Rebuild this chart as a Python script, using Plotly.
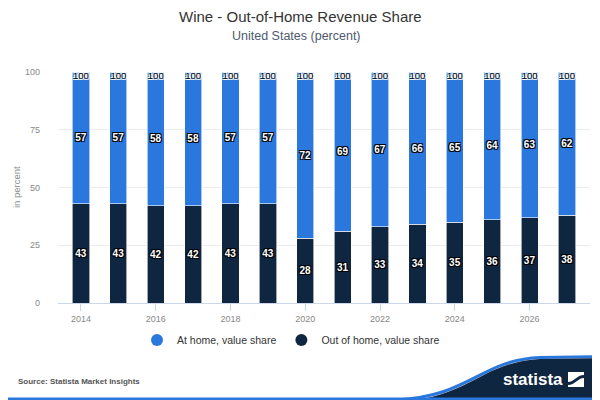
import plotly.graph_objects as go

# data
years = [2014, 2015, 2016, 2017, 2018, 2019, 2020, 2021, 2022, 2023, 2024, 2025, 2026, 2027]
out_of_home = [43, 43, 42, 42, 43, 43, 28, 31, 33, 34, 35, 36, 37, 38]
at_home = [57, 57, 58, 58, 57, 57, 72, 69, 67, 66, 65, 64, 63, 62]
totals = [100, 100, 100, 100, 100, 100, 100, 100, 100, 100, 100, 100, 100, 100]
tick_years = [2014, 2016, 2018, 2020, 2022, 2024, 2026]

BLUE = "#2a77dd"
NAVY = "#0f2640"
FONT = "Liberation Sans, Arial, sans-serif"

outline_dark = "-1px -1px 0 #000, 1px -1px 0 #000, -1px 1px 0 #000, 1px 1px 0 #000"
outline_light = "-1px -1px 0 #fff, 1px -1px 0 #fff, -1px 1px 0 #fff, 1px 1px 0 #fff"

# the page body has an 8px margin, so work in screen pixels and shift back
OFF = 8
L, R, T, B = 58, 590, 72, 303  # plot area in screen pixels


def px(x):
    return (x - L) / (R - L)


def py(y):
    return (B - y) / (B - T)


fig = go.Figure()

fig.add_trace(go.Bar(
    x=years, y=out_of_home, name="Out of home, value share",
    marker=dict(color=NAVY, line=dict(color="#ffffff", width=0.6)),
    text=out_of_home, textposition="inside", insidetextanchor="middle",
    constraintext="none", textangle=0,
    textfont=dict(family=FONT, size=10, color="#ffffff", weight="bold", shadow=outline_dark),
    width=0.46, showlegend=False, hoverinfo="skip",
))
fig.add_trace(go.Bar(
    x=years, y=at_home, name="At home, value share",
    marker=dict(color=BLUE, line=dict(color="#ffffff", width=0.6)),
    text=at_home, textposition="inside", insidetextanchor="middle",
    constraintext="none", textangle=0,
    textfont=dict(family=FONT, size=10, color="#ffffff", weight="bold", shadow=outline_dark),
    width=0.46, showlegend=False, hoverinfo="skip",
))
# total labels at the top of each stack
fig.add_trace(go.Scatter(
    x=years, y=totals, mode="text", text=totals, textposition="bottom center",
    textfont=dict(family=FONT, size=9.5, color="#000000", shadow=outline_light),
    showlegend=False, hoverinfo="skip", cliponaxis=False,
))
# legend entries with round markers
fig.add_trace(go.Scatter(
    x=[None], y=[None], mode="markers", name="At home, value share",
    marker=dict(color=BLUE, size=12, symbol="circle"),
))
fig.add_trace(go.Scatter(
    x=[None], y=[None], mode="markers", name="Out of home, value share",
    marker=dict(color=NAVY, size=12, symbol="circle"),
))

wave = (f"M {px(395)},{py(402)} "
        f"C {px(470)},{py(399)} {px(480)},{py(362)} {px(540)},{py(359)} "
        f"L {px(602)},{py(358)} L {px(602)},{py(402)} Z")
wave_edge = (f"M {px(395)},{py(400)} "
             f"C {px(470)},{py(397)} {px(480)},{py(360)} {px(540)},{py(357.5)} "
             f"L {px(602)},{py(356.5)}")

shapes = [
    dict(type="path", xref="paper", yref="paper", path=wave_edge,
         line=dict(color=BLUE, width=3), layer="above"),
    dict(type="path", xref="paper", yref="paper", path=wave,
         fillcolor=NAVY, line=dict(width=0), layer="above"),
    dict(type="rect", xref="paper", yref="paper",
         x0=px(-2), x1=px(602), y0=py(402), y1=py(397.5),
         fillcolor=BLUE, line=dict(width=0), layer="above"),
    # logo icon
    dict(type="rect", xref="paper", yref="paper",
         x0=px(568), x1=px(584), y0=py(387), y1=py(372),
         fillcolor="#ffffff", line=dict(width=0), layer="above"),
    dict(type="path", xref="paper", yref="paper",
         path=(f"M {px(568)},{py(382)} C {px(574)},{py(382)} {px(577)},{py(375)} {px(584)},{py(375)} "
               f"L {px(584)},{py(378)} C {px(578)},{py(378)} {px(575)},{py(385)} {px(568)},{py(385)} Z"),
         fillcolor=NAVY, line=dict(width=0), layer="above"),
]

annotations = [
    dict(text="Wine - Out-of-Home Revenue Share", x=px(300), xref="paper", y=py(17), yref="paper",
         xanchor="center", yanchor="middle", showarrow=False,
         font=dict(family=FONT, size=15, color="#333333")),
    dict(text="United States (percent)", x=px(296), xref="paper", y=py(36), yref="paper",
         xanchor="center", yanchor="middle", showarrow=False,
         font=dict(family=FONT, size=12.5, color="#4d5a70")),
    dict(text="Source: Statista Market Insights", x=px(16), xref="paper", y=py(381), yref="paper",
         xanchor="left", yanchor="middle", showarrow=False,
         font=dict(family=FONT, size=8, color="#555555", weight="bold")),
    dict(text="statista", x=px(565), xref="paper", y=py(379), yref="paper",
         xanchor="right", yanchor="middle", showarrow=False,
         font=dict(family=FONT, size=17, color="#ffffff", weight="bold")),
    dict(text="in percent", x=px(16), xref="paper", y=py(187), yref="paper",
         xanchor="center", yanchor="middle", showarrow=False, textangle=-90,
         font=dict(family=FONT, size=9.5, color="#8a8a8a")),
]

fig.update_layout(
    width=600, height=400,
    barmode="stack",
    plot_bgcolor="#ffffff", paper_bgcolor="#ffffff",
    margin=dict(l=L - OFF, r=600 - (R - OFF), t=T - OFF, b=400 - (B - OFF), pad=0, autoexpand=False),
    font=dict(family=FONT, color="#333333"),
    xaxis=dict(
        range=[2013.385, 2027.615], tickvals=tick_years, ticktext=[str(t) for t in tick_years],
        showgrid=False, showline=True, linecolor="#ccd6eb", linewidth=1,
        ticks="outside", ticklen=7, tickcolor="#ccd6eb",
        tickfont=dict(family=FONT, size=9, color="#888888"), zeroline=False,
    ),
    yaxis=dict(
        range=[0, 100], tickvals=[0, 25, 50, 75, 100],
        showgrid=True, gridcolor="#ececec", gridwidth=1, zeroline=False,
        tickfont=dict(family=FONT, size=9, color="#888888"), ticklabelstandoff=17,
    ),
    legend=dict(orientation="h", x=px(137), xanchor="left", y=py(340), yanchor="middle",
                font=dict(family=FONT, size=10.5, color="#333333"), itemwidth=30,
                traceorder="normal"),
    shapes=shapes,
    annotations=annotations,
)

fig.write_html("out.html")
